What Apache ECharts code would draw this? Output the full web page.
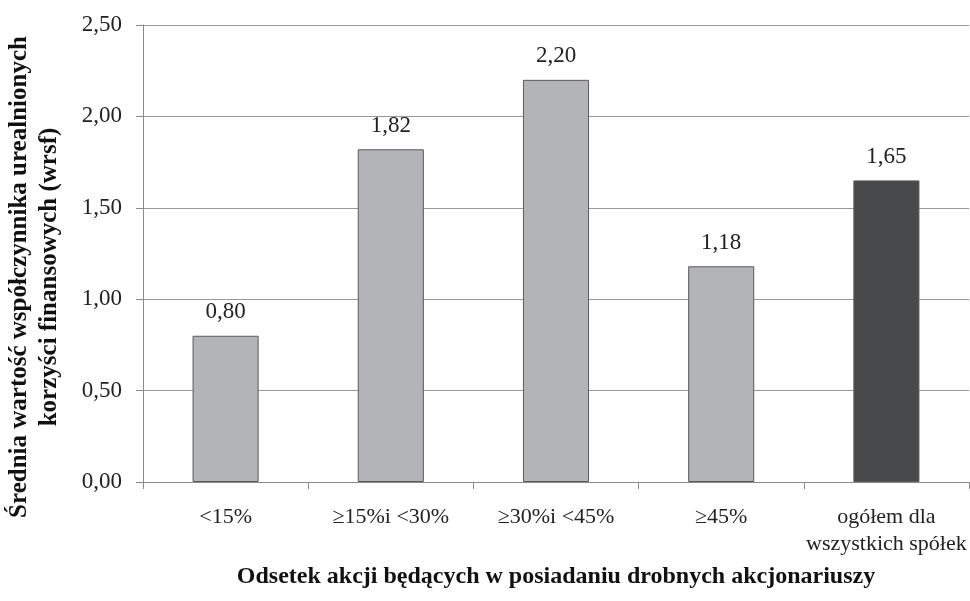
<!DOCTYPE html>
<html>
<head>
<meta charset="utf-8">
<script src="https://cdn.jsdelivr.net/npm/echarts@6/dist/echarts.min.js"></script>
<style>
  html, body { margin: 0; padding: 0; background: #fff; }
  #chart { width: 970px; height: 601px; }
</style>
</head>
<body>
<div id="chart"></div>
<script>
// Share of stock held by small shareholders vs. mean wrsf value
const categories = ['<15%', '\u226515%i <30%', '\u226530%i <45%', '\u226545%', 'ogółem dla\nwszystkich spółek'];
const values = [0.80, 1.82, 2.20, 1.18, 1.65];
const yTicks = { min: 0, max: 2.5, step: 0.5 };
const xTitle = 'Odsetek akcji będących w posiadaniu drobnych akcjonariuszy';
const yTitleLines = ['Średnia wartość współczynnika urealnionych', 'korzyści finansowych (wrsf)'];

const FONT = '"Liberation Serif", "Times New Roman", serif';
const LIGHT = '#b3b4b8';
const DARK = '#48494b';
const fmt = v => v.toFixed(2).replace('.', ',');

const chart = echarts.init(document.getElementById('chart'), null, { renderer: 'canvas' });
chart.setOption({
  backgroundColor: '#ffffff',
  animation: false,
  grid: { left: 143, right: 1, top: 25, bottom: 119, containLabel: false },
  xAxis: {
    type: 'category',
    data: categories,
    name: xTitle,
    nameLocation: 'middle',
    nameGap: 83,
    nameTextStyle: { fontFamily: FONT, fontSize: 24, fontWeight: 'bold', color: '#111' },
    axisLine: { lineStyle: { color: '#8a8a8a', width: 1 } },
    axisTick: { show: true, length: 7, alignWithLabel: false, lineStyle: { color: '#8a8a8a' } },
    axisLabel: { fontFamily: FONT, fontSize: 22, color: '#222', margin: 22, lineHeight: 27, interval: 0 }
  },
  yAxis: {
    type: 'value',
    min: yTicks.min,
    max: yTicks.max,
    interval: yTicks.step,
    axisLine: { show: true, lineStyle: { color: '#8a8a8a', width: 1 } },
    axisTick: { show: true, length: 7, lineStyle: { color: '#8a8a8a' } },
    splitLine: { show: true, lineStyle: { color: '#999999', width: 1 } },
    axisLabel: { fontFamily: FONT, fontSize: 23, color: '#222', margin: 21, formatter: fmt }
  },
  graphic: [{
    type: 'text',
    rotation: Math.PI / 2,
    x: 35,
    y: 277,
    style: {
      text: yTitleLines.join('\n'),
      fontFamily: FONT,
      fontSize: 25,
      fontWeight: 'bold',
      lineHeight: 30,
      fill: '#111',
      align: 'center',
      verticalAlign: 'middle'
    }
  }],
  series: [{
    type: 'bar',
    data: values,
    barWidth: '40%',
    itemStyle: {
      color: p => (p.dataIndex === categories.length - 1 ? DARK : LIGHT),
      borderColor: '#5a5a5a',
      borderWidth: 1
    },
    label: {
      show: true,
      position: 'top',
      distance: 12,
      fontFamily: FONT,
      fontSize: 23,
      color: '#222',
      formatter: p => fmt(p.value)
    }
  }]
});
</script>
</body>
</html>
